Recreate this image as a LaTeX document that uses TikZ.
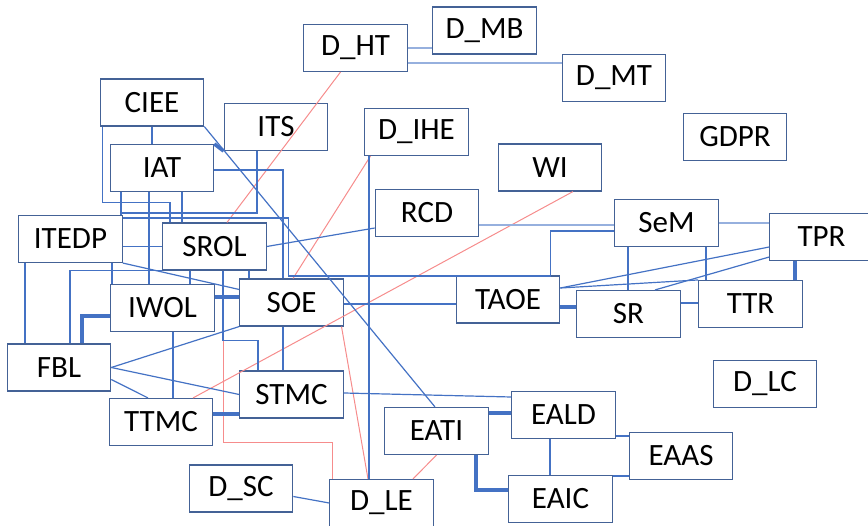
\documentclass[tikz,border=0pt]{standalone}
\usepackage{fontspec}
\setmainfont{Carlito}
\definecolor{boxline}{RGB}{68,98,150}
\definecolor{linkblue}{RGB}{68,114,196}
\definecolor{paleblue}{RGB}{150,176,222}
\definecolor{linkred}{RGB}{246,140,140}
\begin{document}
\begin{tikzpicture}[x=1pt,y=-1pt,
  box/.style={draw=boxline,line width=1.1pt,minimum width=103.5pt,minimum height=47pt,inner sep=0pt,font=\fontsize{31}{37}\selectfont},
  link/.style={draw=linkblue,line width=1.2pt},
  midlink/.style={draw=linkblue,line width=2.2pt},
  heavylink/.style={draw=linkblue,line width=3.6pt},
  palelink/.style={draw=paleblue,line width=1.6pt},
  redlink/.style={draw=linkred,line width=1pt}]
\useasboundingbox (0,0) rectangle (868,526);

\node[box] (ciee) at (152,102.5) {CIEE};
\node[box] (its) at (276,127) {ITS};
\node[box] (iat) at (162,168) {IAT};
\node[box] (itedp) at (70.5,239) {ITEDP};
\node[box] (srol) at (214.5,246.5) {SROL};
\node[box] (dht) at (355.5,48) {D\_HT};
\node[box] (dmb) at (484.5,30.5) {D\_MB};
\node[box] (dmt) at (614,78) {D\_MT};
\node[box] (dihe) at (416.5,132) {D\_IHE};
\node[box] (wi) at (550,167.5) {WI};
\node[box] (rcd) at (427,213) {RCD};
\node[box] (gdpr) at (735,137) {GDPR};
\node[box] (sem) at (666.5,223) {SeM};
\node[box] (tpr) at (821.5,237) {TPR};
\node[box] (sr) at (628.5,314) {SR};
\node[box] (ttr) at (750.5,304) {TTR};
\node[box] (dlc) at (765,384) {D\_LC};
\node[box] (eaas) at (681,456) {EAAS};
\node[box] (eald) at (563.5,415) {EALD};
\node[box] (eati) at (436.5,431) {EATI};
\node[box] (eaic) at (560.5,499) {EAIC};
\node[box] (dle) at (381.5,503) {D\_LE};
\node[box] (dsc) at (241,488.5) {D\_SC};
\node[box] (taoe) at (508,299.5) {TAOE};
\node[box] (soe) at (291.5,302.5) {SOE};
\node[box] (iwol) at (162.5,308) {IWOL};
\node[box] (fbl) at (59,367.5) {FBL};
\node[box] (stmc) at (291.5,394.5) {STMC};
\node[box] (ttmc) at (161,422) {TTMC};

\draw[palelink] (dht.east) -- (dht.east -| dmb.west);
\draw[palelink] ([yshift=-15pt]dht.east) -- ([yshift=15pt]dmt.west);

\draw[redlink] ([xshift=-15pt]dht.south) -- ([xshift=12.5pt]srol.north);
\draw[redlink] ([xshift=-46pt]dihe.south) -- ([xshift=1.5pt]soe.north);
\draw[redlink] ([xshift=23pt]wi.south) -- ([xshift=32pt]ttmc.north);
\draw[redlink] ([xshift=50pt]soe.south) -- ([xshift=-13.5pt]dle.north);
\draw[redlink] (eati.south) -- ([xshift=31.5pt]dle.north);
\draw[redlink] ([xshift=8.5pt]srol.south) -- ++(0,172) -| ([xshift=-49.5pt]dle.north);

\draw[link] ([xshift=-47.5pt]dihe.south) -- ([xshift=-47.5pt]dihe.south |- dle.north);
\draw[link] ([xshift=8.5pt]srol.south) -- ++(0,70) -| ([xshift=-33.5pt]stmc.north);

\draw[midlink] (ciee.south) -- (ciee.south |- iat.north);
\draw[link] ([xshift=3pt]ciee.south west) -- ++(0,76) -| ([xshift=-44.5pt]srol.north);
\draw[link] (ciee.south east) -- ([xshift=-1.5pt]eati.north);

\draw[heavylink] (iat.north east) -- (its.south west);
\draw[link] ([yshift=-2pt]iat.east) -| ([xshift=-8.5pt]soe.north);
\draw[link] ([xshift=-13pt]iat.south) -- ([xshift=-13pt]iat.south |- iwol.north);
\draw[midlink] ([xshift=20pt]iat.south) -- ([xshift=20pt]iat.south |- srol.north);
\draw[link] ([xshift=-41pt]iat.south) -- ([xshift=-41pt]iat.south |- itedp.north);

\draw[link] ([xshift=-19pt]its.south) |- ([xshift=-1pt,yshift=2pt]itedp.north east);
\draw[link] ([yshift=-3pt]itedp.north east) -- ++(166,0) -- ++(0,58) -- ++(262,0) |- ([yshift=-8pt]sem.west);
\draw[link] (itedp.east |- srol.west) -- (srol.west);
\draw[link] (itedp.south east) -- ([yshift=13pt]soe.west);
\draw[link] ([xshift=-45.5pt]itedp.south) -- ([xshift=-45.5pt]itedp.south |- fbl.north);
\draw[link] ([xshift=41.5pt]itedp.south) -- ([xshift=41.5pt]itedp.south |- iwol.north);

\draw[link] ([xshift=11pt]fbl.north) |- (srol.south west);
\draw[heavylink] ([xshift=23pt]fbl.north) |- ([yshift=-8pt]iwol.west);
\draw[link] (fbl.east) -- (soe.south west);
\draw[link] (fbl.east) -- (stmc.west);
\draw[link] ([yshift=-12pt]fbl.east) -- ([xshift=-13pt]ttmc.north);

\draw[link] ([xshift=10.5pt]iwol.south) -- ([xshift=10.5pt]iwol.south |- ttmc.north);
\draw[heavylink] ([yshift=11pt]iwol.east) -- ([yshift=11pt]iwol.east -| soe.west);
\draw[midlink] ([xshift=-24.5pt]srol.south) -- ([xshift=-24.5pt]srol.south |- iwol.north);
\draw[midlink] ([xshift=34.5pt]srol.south) -- ([xshift=34.5pt]srol.south |- soe.north);
\draw[link] (srol.east) -- ([yshift=-15pt]rcd.west);
\draw[palelink] ([yshift=-12pt]rcd.east) -- ([yshift=-2pt]sem.west);

\draw[link] ([yshift=-1.5pt]soe.east) -- ([yshift=-1.5pt]soe.east -| taoe.west);
\draw[link] ([xshift=-8.5pt]soe.south) -- ([xshift=-8.5pt]soe.south |- stmc.north);
\draw[heavylink] ([yshift=8pt]ttmc.east) -- ([yshift=8pt]ttmc.east -| stmc.west);
\draw[link] ([yshift=1.5pt]stmc.east) -- ([yshift=18pt]eald.west);

\draw[heavylink] ([yshift=18pt]eati.east) -- ([yshift=18pt]eati.east -| eald.west);
\draw[heavylink] ([xshift=39.5pt]eati.south) |- ([yshift=9pt]eaic.west);
\draw[midlink] ([xshift=-13.5pt]eald.south) -- ([xshift=-13.5pt]eald.south |- eaic.north);
\draw[link] ([yshift=-21pt]eald.east) -- ([yshift=-21pt]eald.east -| eaas.west);
\draw[midlink] ([yshift=23pt]eaic.east) -- ([yshift=23pt]eaic.east -| eaas.west);
\draw[link] ([yshift=-8pt]dsc.east) -- (dle.west);

\draw[heavylink] ([yshift=-7.5pt]taoe.east) -- ([yshift=-7.5pt]taoe.east -| sr.west);
\draw[link] ([yshift=11.5pt]taoe.east) -- ([yshift=-10pt]tpr.west);
\draw[link] ([yshift=11.5pt]taoe.east) -- (ttr.north west);
\draw[link] ([xshift=26.5pt]sr.north) -- ([yshift=-20pt]tpr.west);
\draw[midlink] ([xshift=-38.5pt]sem.south) -- ([xshift=-38.5pt]sem.south |- sr.north);
\draw[midlink] ([xshift=39.5pt]sem.south) -- ([xshift=39.5pt]sem.south |- ttr.north);
\draw[palelink] (sem.east) -- (sem.east -| tpr.west);
\draw[heavylink] ([xshift=-26.5pt]tpr.south) -- ([xshift=-26.5pt]tpr.south |- ttr.north);
\draw[midlink] ([yshift=11pt]sr.east) -- ([yshift=11pt]sr.east -| ttr.west);

\end{tikzpicture}
\end{document}
